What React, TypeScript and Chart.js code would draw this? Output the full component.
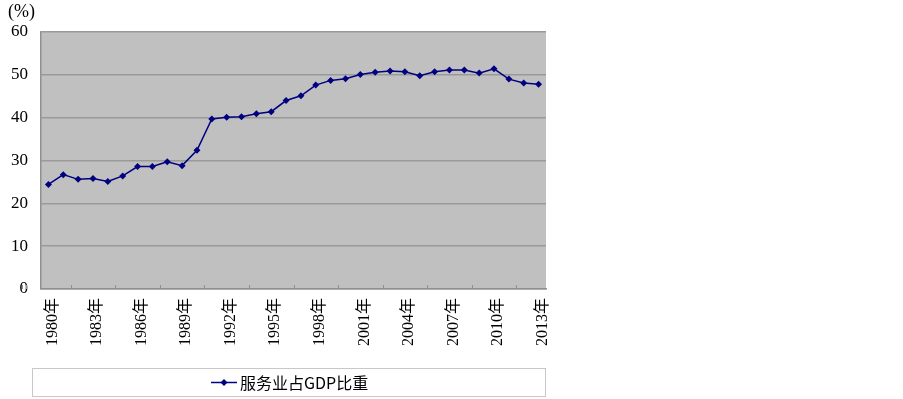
import React, { useEffect, useRef } from "react";
import { Chart, registerables } from "chart.js";

Chart.register(...registerables);

const years: string[] = [
  "1980年", "1981年", "1982年", "1983年", "1984年", "1985年", "1986年", "1987年", "1988年", "1989年",
  "1990年", "1991年", "1992年", "1993年", "1994年", "1995年", "1996年", "1997年", "1998年", "1999年",
  "2000年", "2001年", "2002年", "2003年", "2004年", "2005年", "2006年", "2007年", "2008年", "2009年",
  "2010年", "2011年", "2012年", "2013年",
];

const serviceShare: number[] = [
  24.4, 26.7, 25.6, 25.8, 25.1, 26.4, 28.6, 28.6, 29.7, 28.8,
  32.4, 39.7, 40.1, 40.2, 40.9, 41.4, 44.0, 45.1, 47.6, 48.7,
  49.1, 50.1, 50.6, 50.9, 50.7, 49.8, 50.7, 51.1, 51.1, 50.4,
  51.4, 49.0, 48.1, 47.8,
];

const seriesLabel = "服务业占GDP比重";
const unitLabel = "(%)";
const yMin = 0;
const yMax = 60;
const yStep = 10;

const extrasPlugin = {
  id: "extras",
  beforeDraw(chart: any) {
    const { ctx, chartArea } = chart;
    ctx.save();
    ctx.fillStyle = "#c0c0c0";
    ctx.fillRect(chartArea.left, chartArea.top, chartArea.right - chartArea.left, chartArea.bottom - chartArea.top);
    ctx.restore();
  },
  afterDraw(chart: any) {
    const { ctx, chartArea } = chart;
    const xs = chart.scales.x;
    ctx.save();
    // inward tick marks at category boundaries
    ctx.strokeStyle = "#909090";
    ctx.lineWidth = 1;
    const n = chart.data.labels.length;
    const half = (xs.getPixelForTick(1) - xs.getPixelForTick(0)) / 2;
    for (let i = 0; i <= n; i++) {
      const x = Math.round(xs.getPixelForTick(Math.min(i, n - 1)) + (i < n ? -half : half)) + 0.5;
      ctx.beginPath();
      ctx.moveTo(x, chartArea.bottom);
      ctx.lineTo(x, chartArea.bottom - 4);
      ctx.stroke();
    }
    // unit label
    ctx.fillStyle = "#000";
    ctx.font = '18px "Liberation Serif"';
    ctx.textAlign = "left";
    ctx.textBaseline = "middle";
    ctx.fillText(unitLabel, 8, 12);
    // legend box
    ctx.strokeStyle = "#c8c8c8";
    ctx.lineWidth = 1;
    ctx.strokeRect(32.5, 368.5, 513, 28);
    const ds = chart.data.datasets[0];
    const ly = 382.5;
    ctx.strokeStyle = ds.borderColor;
    ctx.lineWidth = 1.5;
    ctx.beginPath();
    ctx.moveTo(211, ly);
    ctx.lineTo(237, ly);
    ctx.stroke();
    ctx.fillStyle = ds.borderColor;
    ctx.beginPath();
    ctx.moveTo(224, ly - 3.5);
    ctx.lineTo(227.5, ly);
    ctx.lineTo(224, ly + 3.5);
    ctx.lineTo(220.5, ly);
    ctx.closePath();
    ctx.fill();
    ctx.fillStyle = "#000";
    ctx.font = '16px "Noto Sans CJK SC"';
    ctx.textAlign = "left";
    ctx.textBaseline = "middle";
    ctx.fillText(ds.label, 240, 383);
    ctx.restore();
  },
};

export default function App() {
  const ref = useRef<HTMLCanvasElement>(null);
  useEffect(() => {
    document.body.style.margin = "0";
    const canvas = ref.current!;
    const chart = new Chart(canvas, {
      type: "line",
      data: {
        labels: years,
        datasets: [
          {
            label: seriesLabel,
            data: serviceShare,
            borderColor: "#000080",
            backgroundColor: "#000080",
            borderWidth: 1.5,
            pointStyle: "rectRot",
            pointRadius: 3.5,
            pointBorderWidth: 0,
            tension: 0,
          },
        ],
      },
      options: {
        responsive: false,
        animation: false,
        devicePixelRatio: 1,
        layout: { padding: { top: 32, right: 357, left: 0, bottom: 0 } },
        plugins: { legend: { display: false }, tooltip: { enabled: false } },
        scales: {
          x: {
            type: "category",
            offset: true,
            grid: { display: false, drawTicks: false },
            border: { display: true, color: "#909090", width: 1.5 },
            afterFit: (s: any) => {
              s.height = 110;
            },
            ticks: {
              autoSkip: false,
              maxRotation: 90,
              minRotation: 90,
              padding: 9,
              labelOffset: 4,
              color: "#000",
              font: { family: '"Liberation Serif", "Noto Sans CJK SC"', size: 16 },
              callback: (_v: any, i: number) => (i % 3 === 0 ? years[i] : null),
            },
          },
          y: {
            min: yMin,
            max: yMax,
            grid: { color: "#999999", lineWidth: 1.5, drawTicks: false },
            border: { display: true, color: "#909090", width: 1.5 },
            afterFit: (s: any) => {
              s.width = 41;
            },
            ticks: {
              stepSize: yStep,
              padding: 13,
              color: "#000",
              font: { family: '"Liberation Serif"', size: 17 },
            },
          },
        },
      },
      plugins: [extrasPlugin],
    });
    return () => chart.destroy();
  }, []);
  return <canvas ref={ref} width={903} height={399} style={{ display: "block", width: 903, height: 399 }} />;
}
